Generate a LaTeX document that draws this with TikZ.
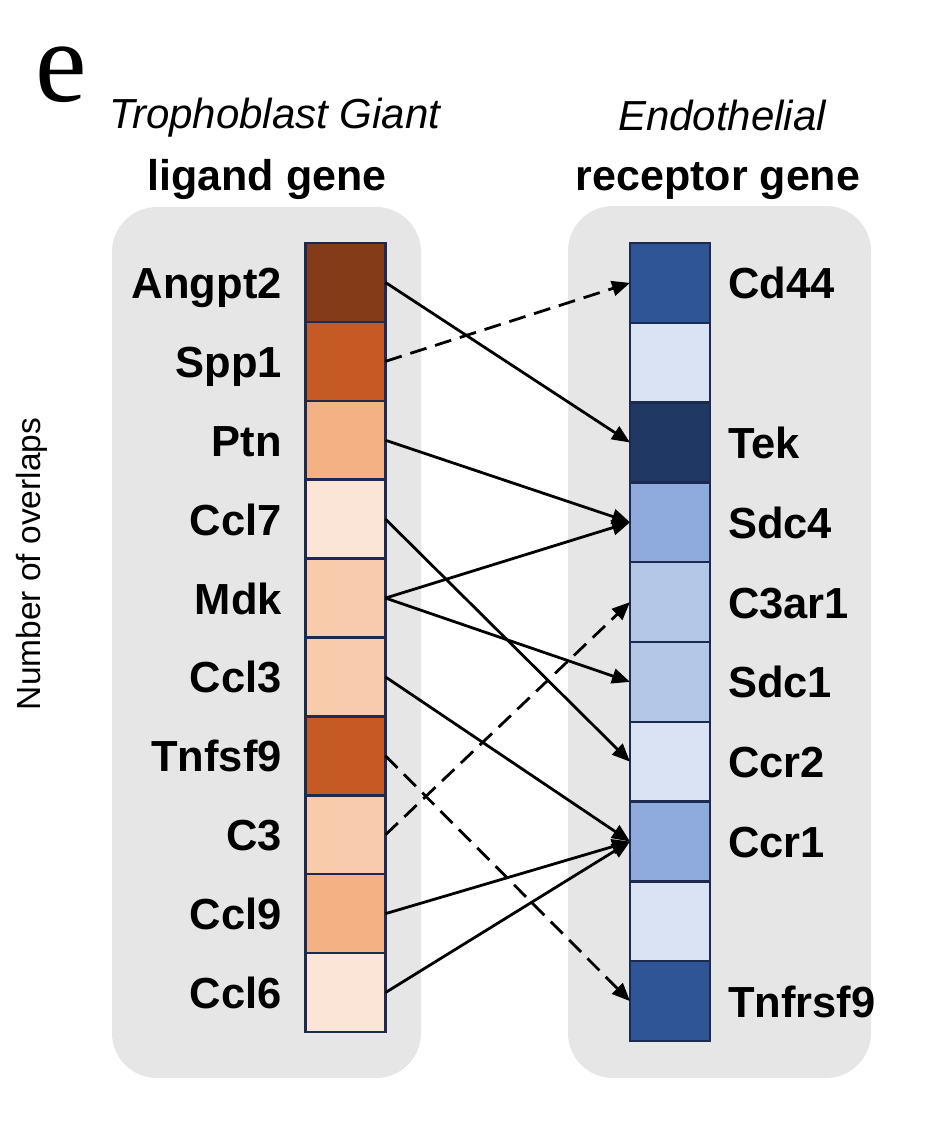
\documentclass[tikz,border=0pt]{standalone}
\usepackage{fontspec}
\setmainfont{Liberation Sans}
\newfontfamily\serfont{Liberation Serif}
\usetikzlibrary{arrows.meta}
\definecolor{boxgray}{HTML}{E6E6E6}
\definecolor{cellline}{HTML}{1C2A4F}
\definecolor{o1}{HTML}{843C18}
\definecolor{o2}{HTML}{C55A24}
\definecolor{o3}{HTML}{F4B183}
\definecolor{o4}{HTML}{F8CBAD}
\definecolor{o5}{HTML}{FBE5D6}
\definecolor{b1}{HTML}{1F3864}
\definecolor{b2}{HTML}{2F5597}
\definecolor{b3}{HTML}{8FAADC}
\definecolor{b4}{HTML}{B4C7E7}
\definecolor{b5}{HTML}{DAE3F3}
\begin{document}
\begin{tikzpicture}[x=1pt,y=-1pt,
  cell/.style={draw=cellline,line width=2.5pt,minimum width=80pt,inner sep=0pt,outer sep=0pt},
  lcell/.style={cell,minimum height=78.9pt},
  rcell/.style={cell,minimum height=79.8pt},
  glabel/.style={font=\fontsize{43.5}{50}\selectfont\bfseries,inner sep=0pt},
  ititle/.style={font=\fontsize{42}{50}\selectfont\itshape,inner sep=0pt,anchor=base},
  btitle/.style={font=\fontsize{43}{50}\selectfont\bfseries,inner sep=0pt,anchor=base},
  link/.style={line width=2.8pt,-{Triangle[length=18pt,width=15pt]}},
  dlink/.style={link,dash pattern=on 17pt off 9pt}]
\useasboundingbox (0,0) rectangle (944,1128);
\fill[white] (0,0) rectangle (944,1128);
\fill[boxgray,rounded corners=45pt] (112,207) rectangle (421,1078);
\fill[boxgray,rounded corners=45pt] (568,206) rectangle (871,1078);
% panel letter and titles
\node[anchor=base west,inner sep=0pt,font=\serfont\fontsize{116}{120}\selectfont] (letter) at (35,101) {e};
\node[ititle] (t1) at (275,128) {Trophoblast Giant};
\node[btitle] (t2) at (267,190) {ligand gene};
\node[ititle] (t3) at (722,130) {Endothelial};
\node[btitle] (t4) at (718,190) {receptor gene};
\node[rotate=90,inner sep=0pt,font=\fontsize{33.5}{38}\selectfont] (ylab) at (32,564) {Number of overlaps};
% left column
\foreach \c [count=\i] in {o1,o2,o3,o5,o4,o4,o2,o4,o3,o5}
  \node[lcell,fill=\c] (L\i) at (345.5,{243+78.9*(\i-0.5)}) {};
\foreach \t [count=\i] in {Angpt2,Spp1,Ptn,Ccl7,Mdk,Ccl3,Tnfsf9,C3,Ccl9,Ccl6}
  \node[glabel,anchor=base east] (LT\i) at (282,{243+78.9*(\i-0.5)+16}) {\t};
% right column
\foreach \c [count=\i] in {b2,b5,b1,b3,b4,b4,b5,b3,b5,b2}
  \node[rcell,fill=\c] (R\i) at (670,{243+79.8*(\i-0.5)}) {};
\foreach \i/\t in {1/Cd44,3/Tek,4/Sdc4,5/C3ar1,6/Sdc1,7/Ccr2,8/Ccr1,10/Tnfrsf9}
  \node[glabel,anchor=base west] (RT\i) at (728,{243+79.8*(\i-0.5)+16}) {\t};
% links
\draw[link] (L1.east) -- (R3.west);
\draw[dlink] (L2.east) -- (R1.west);
\draw[link] (L3.east) -- (R4.west);
\draw[link] (L4.east) -- (R7.west);
\draw[link] (L5.east) -- (R4.west);
\draw[link] (L5.east) -- (R6.west);
\draw[link] (L6.east) -- (R8.west);
\draw[dlink] (L7.east) -- (R10.west);
\draw[dlink] (L8.east) -- (R5.west);
\draw[link] (L9.east) -- (R8.west);
\draw[link] (L10.east) -- (R8.west);
\end{tikzpicture}
\end{document}
